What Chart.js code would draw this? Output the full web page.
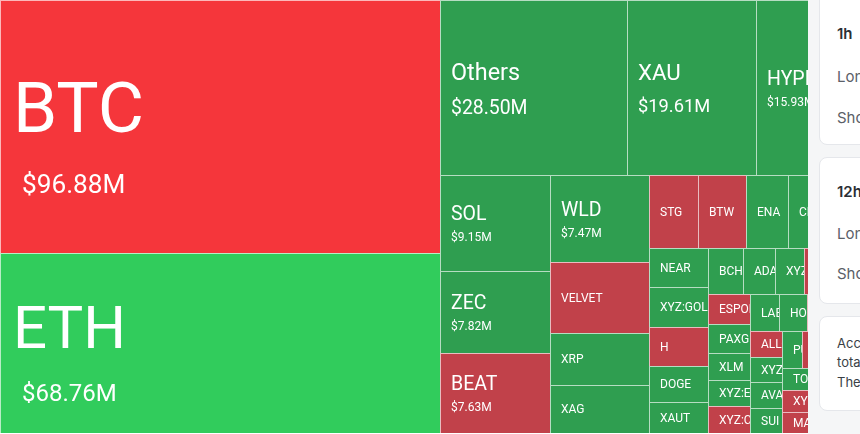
<!DOCTYPE html>
<html><head><meta charset="utf-8">
<script src="https://cdn.jsdelivr.net/npm/chart.js@4.4.1/dist/chart.umd.min.js"></script>
<style>
html,body{margin:0;padding:0;background:#fff;}
body{width:860px;height:434px;overflow:hidden;position:relative;}
#wrap{position:absolute;left:0;top:0;width:860px;height:433px;}
#panel{position:absolute;left:808px;top:0;width:52px;height:434px;background:#f5f6f7;overflow:hidden;font-family:Inter,"Liberation Sans",sans-serif;}
.card{position:absolute;left:11px;width:200px;background:#fff;border:1px solid #e5e7eb;border-radius:8px;box-sizing:border-box;}
.t{position:absolute;left:29px;white-space:nowrap;font-size:15px;line-height:20px;color:#5b6068;}
.s{font-size:13px;color:#3a3f46;}
</style></head>
<body>
<div id="wrap"><canvas id="tm"></canvas></div>
<div id="panel">
  <div class="card" style="top:-14px;height:159px"></div>
  <div class="card" style="top:157px;height:147px"></div>
  <div class="card" style="top:316px;height:95px"></div>
  <div class="t" style="top:24px;font-weight:600;color:#2b2f36">1h</div>
  <div class="t" style="top:67px">Long</div>
  <div class="t" style="top:108px">Short</div>
  <div class="t" style="top:182px;font-weight:600;color:#2b2f36">12h</div>
  <div class="t" style="top:224px">Long</div>
  <div class="t" style="top:264px">Short</div>
  <div class="t s" style="top:333px">According to the data</div>
  <div class="t s" style="top:352px">total liquidations</div>
  <div class="t s" style="top:372px">The largest single</div>
</div>
<script>
// ---- data ----
const names = ['BTC','ETH','Others','XAU','HYPE','SOL','ZEC','BEAT','WLD','VELVET','XRP','XAG',
  'STG','BTW','ENA','CRV','LINK','NEAR','XYZ:GOLD','H','DOGE','XAUT',
  'BCH','ADA','XYZ:XYZ100','ASTER','LTC','ESPORTS','PAXG','XLM','XYZ:EUR','XYZ:COIN',
  'LAB','HOME','AVNT','LINEA','ALLO','XYZ:TSLA','AVAX','SUI','PUMP','FARTCOIN','TAO','WIF',
  'TON','XYZ:NVDA','MASK','ZORA','PENGU','ONDO','AAVE','TRUMP','UNI','ARB','APT'];
const values = [96.88,68.76,28.50,19.61,15.93,9.15,7.82,7.63,7.47,6.10,4.47,4.12,
  3.07,3.05,2.62,2.35,2.15,2.05,2.04,2.00,1.84,1.59,
  1.40,1.32,1.16,1.14,1.10,1.09,1.06,0.99,0.98,0.97,
  0.93,0.92,0.88,0.83,0.72,0.715,0.715,0.71,0.64,0.63,0.62,0.62,
  0.52,0.50,0.50,0.46,0.44,0.42,0.40,0.38,0.36,0.22,0.19];
// dominant side of liquidations: 'S' = short (red), 'L' = long (green)
const sides = ['S','L','L','L','L','L','L','S','L','S','L','L',
  'S','S','L','L','L','L','L','S','L','L',
  'L','L','L','S','L','S','L','L','L','S',
  'L','L','S','L','S','L','L','L','L','S','L','L',
  'L','S','S','L','S','L','L','S','L','L','S'];

// ---- styles ----
const PAL = {S:'#C1414A', L:'#2F9E50'};
const PAL_STRONG = {S:'#F5363B', L:'#31CC5C'};
const FONT = 'Roboto, "Noto Sans", sans-serif';

// d3-style squarify (golden ratio)
function squarify(vals, x0, y0, x1, y1) {
  const ratio = (1 + Math.sqrt(5)) / 2;
  const out = new Array(vals.length);
  let value = vals.reduce((a, b) => a + b, 0);
  let i0 = 0, i1 = 0; const n = vals.length;
  while (i0 < n) {
    const dx = x1 - x0, dy = y1 - y0;
    let sumValue = vals[i1++];
    let minValue = sumValue, maxValue = sumValue;
    const alpha = Math.max(dy / dx, dx / dy) / (value * ratio);
    let beta = sumValue * sumValue * alpha;
    let minRatio = Math.max(maxValue / beta, beta / minValue);
    for (; i1 < n; ++i1) {
      const nv = vals[i1];
      sumValue += nv;
      if (nv < minValue) minValue = nv;
      if (nv > maxValue) maxValue = nv;
      beta = sumValue * sumValue * alpha;
      const newRatio = Math.max(maxValue / beta, beta / minValue);
      if (newRatio > minRatio) { sumValue -= nv; break; }
      minRatio = newRatio;
    }
    if (dx < dy) { // row across the top
      const ny = value ? y0 + dy * sumValue / value : y1;
      let x = x0; const k = (x1 - x0) / sumValue;
      for (let i = i0; i < i1; i++) { const w = vals[i] * k; out[i] = {x0: x, y0: y0, x1: x + w, y1: ny}; x += w; }
      y0 = ny;
    } else { // column on the left
      const nx = value ? x0 + dx * sumValue / value : x1;
      let y = y0; const k = (y1 - y0) / sumValue;
      for (let i = i0; i < i1; i++) { const h = vals[i] * k; out[i] = {x0: x0, y0: y, x1: nx, y1: y + h}; y += h; }
      x0 = nx;
    }
    value -= sumValue; i0 = i1;
  }
  return out;
}

function labelStyle(w, h) {
  const area = w * h;
  if (area >= 60000) { const fN = 0.213 * Math.sqrt(area); return {tier: 1, fN, fV: 12 + 0.2 * fN}; }
  if (area >= 20000) { const k = (area - 20000) / 9000; return {tier: 2, fN: 22 + k, fV: 18 + k}; }
  if (area >= 8000) return {tier: 2, fN: 19.5, fV: 12};
  return {tier: 3, fN: 12};
}

const treemapPlugin = {
  id: 'treemap',
  afterDatasetsDraw(chart) {
    const {ctx, chartArea: a, scales: {x, y}} = chart;
    const aspect = a.width / a.height;
    const rects = squarify(values, 0, 0, aspect, 1);
    ctx.save();
    rects.forEach((r, i) => {
      const X0 = Math.round(x.getPixelForValue(r.x0 / aspect * 100));
      const X1 = Math.round(x.getPixelForValue(r.x1 / aspect * 100));
      const Y0 = Math.round(y.getPixelForValue(r.y0 * 100));
      const Y1 = Math.round(y.getPixelForValue(r.y1 * 100));
      const pal = i < 2 ? PAL_STRONG : PAL;
      ctx.fillStyle = pal[sides[i]];
      ctx.fillRect(X0, Y0, X1 - X0, Y1 - Y0);
      ctx.strokeStyle = 'rgba(255,255,255,0.65)';
      ctx.lineWidth = 1;
      ctx.strokeRect(X0 + 0.5, Y0 + 0.5, X1 - X0, Y1 - Y0);
      // label
      const w = X1 - X0, h = Y1 - Y0, cy = (Y0 + Y1) / 2;
      const st = labelStyle(w, h);
      ctx.save();
      ctx.beginPath(); ctx.rect(X0 + 1, Y0 + 1, w - 1, h - 1); ctx.clip();
      ctx.fillStyle = '#ffffff';
      ctx.textBaseline = 'alphabetic';
      ctx.textAlign = 'left';
      const val = '$' + values[i].toFixed(2) + 'M';
      if (st.tier === 1) {
        const nb = cy + 0.08 * st.fN;
        ctx.font = st.fN.toFixed(1) + 'px ' + FONT;
        ctx.fillText(names[i], X0 + 13, nb);
        ctx.font = st.fV.toFixed(1) + 'px ' + FONT;
        ctx.fillText(val, X0 + 22, nb + 0.6 * st.fN + 0.7 * st.fV);
      } else if (st.tier === 2) {
        const s = 1.75 * st.fV;
        const nb = cy - (s - 0.71 * st.fN) / 2 + 1;
        ctx.font = st.fN.toFixed(1) + 'px ' + FONT;
        ctx.fillText(names[i], X0 + 11, nb);
        ctx.font = st.fV.toFixed(1) + 'px ' + FONT;
        ctx.fillText(val, X0 + 11, nb + s);
      } else {
        ctx.font = st.fN + 'px ' + FONT;
        ctx.fillText(names[i], X0 + 11, cy + 4.3);
      }
      ctx.restore();
    });
    ctx.restore();
  }
};

new Chart(document.getElementById('tm'), {
  type: 'scatter',
  data: {datasets: [{data: [], pointRadius: 0}]},
  options: {
    responsive: true, maintainAspectRatio: false, animation: false,
    layout: {padding: 0},
    scales: {
      x: {type: 'linear', min: 0, max: 100, display: false},
      y: {type: 'linear', min: 0, max: 100, reverse: true, display: false}
    },
    plugins: {legend: {display: false}, tooltip: {enabled: false}}
  },
  plugins: [treemapPlugin]
});
</script>
</body></html>
